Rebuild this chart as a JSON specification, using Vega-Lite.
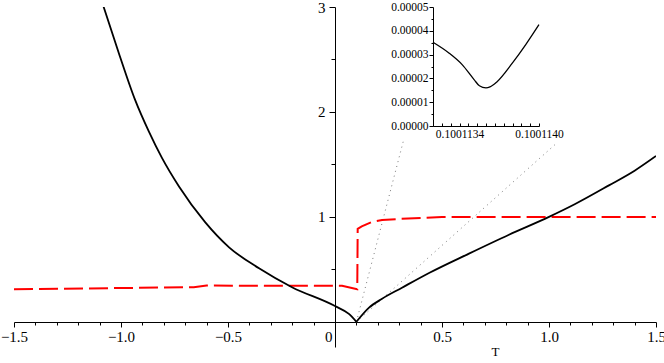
{
  "$schema": "https://vega.github.io/schema/vega-lite/v6.json",
  "padding": 0,
  "background": "white",
  "width": 642,
  "height": 340,
  "config": {
    "view": {"stroke": null},
    "axis": {"grid": false, "domainColor": "black", "tickColor": "black", "labelColor": "black", "titleColor": "black", "labelFont": "Liberation Serif", "titleFont": "Liberation Serif", "domainWidth": 1, "tickWidth": 1, "labelOverlap": false, "labelFlush": false}
  },
  "datasets": {
    "curve": [
      {"b": "L", "i": 1, "T": -1.089, "v": 3.05},
      {"b": "L", "i": 2, "T": -1.01, "v": 2.56},
      {"b": "L", "i": 3, "T": -0.935, "v": 2.12},
      {"b": "L", "i": 4, "T": -0.869, "v": 1.81},
      {"b": "L", "i": 5, "T": -0.808, "v": 1.56},
      {"b": "L", "i": 6, "T": -0.729, "v": 1.29},
      {"b": "L", "i": 7, "T": -0.607, "v": 0.95},
      {"b": "L", "i": 8, "T": -0.495, "v": 0.71},
      {"b": "L", "i": 9, "T": -0.355, "v": 0.51},
      {"b": "L", "i": 10, "T": -0.201, "v": 0.33},
      {"b": "L", "i": 11, "T": 0.0, "v": 0.15},
      {"b": "L", "i": 12, "T": 0.065, "v": 0.075},
      {"b": "L", "i": 13, "T": 0.1001, "v": 0.0},
      {"b": "R", "i": 1, "T": 0.1001, "v": 0.0},
      {"b": "R", "i": 2, "T": 0.159, "v": 0.135},
      {"b": "R", "i": 3, "T": 0.22, "v": 0.22},
      {"b": "R", "i": 4, "T": 0.313, "v": 0.325},
      {"b": "R", "i": 5, "T": 0.444, "v": 0.47},
      {"b": "R", "i": 6, "T": 0.626, "v": 0.65},
      {"b": "R", "i": 7, "T": 0.813, "v": 0.83},
      {"b": "R", "i": 8, "T": 1.0, "v": 1.0},
      {"b": "R", "i": 9, "T": 1.12, "v": 1.12},
      {"b": "R", "i": 10, "T": 1.28, "v": 1.30},
      {"b": "R", "i": 11, "T": 1.40, "v": 1.44},
      {"b": "R", "i": 12, "T": 1.5, "v": 1.58}
    ],
    "ratio": [
      {"i": 1, "T": -1.5, "v": 0.31},
      {"i": 2, "T": -0.66, "v": 0.33},
      {"i": 3, "T": -0.6, "v": 0.345},
      {"i": 4, "T": 0.033, "v": 0.343},
      {"i": 5, "T": 0.104, "v": 0.31},
      {"i": 6, "T": 0.106, "v": 0.886},
      {"i": 7, "T": 0.125, "v": 0.91},
      {"i": 8, "T": 0.17, "v": 0.95},
      {"i": 9, "T": 0.22, "v": 0.97},
      {"i": 10, "T": 0.30, "v": 0.98},
      {"i": 11, "T": 0.40, "v": 0.99},
      {"i": 12, "T": 0.50, "v": 1.0},
      {"i": 13, "T": 1.5, "v": 1.0}
    ],
    "guides": [
      {"g": "a", "i": 1, "T": 0.1001, "v": 0.0},
      {"g": "a", "i": 2, "T": 0.322, "v": 1.743},
      {"g": "b", "i": 1, "T": 0.1001, "v": 0.0},
      {"g": "b", "i": 2, "T": 1.037, "v": 1.705}
    ],
    "inset": [
      {"i": 1, "x": 0.1001132, "y": 0.0000352},
      {"i": 2, "x": 0.10011332, "y": 0.0000307},
      {"i": 3, "x": 0.10011342, "y": 0.0000258},
      {"i": 4, "x": 0.10011351, "y": 0.0000195},
      {"i": 5, "x": 0.10011355, "y": 0.0000169},
      {"i": 6, "x": 0.1001136, "y": 0.0000160},
      {"i": 7, "x": 0.10011363, "y": 0.0000164},
      {"i": 8, "x": 0.10011368, "y": 0.0000184},
      {"i": 9, "x": 0.1001138, "y": 0.0000265},
      {"i": 10, "x": 0.1001139, "y": 0.0000342},
      {"i": 11, "x": 0.100114, "y": 0.0000426}
    ]
  },
  "resolve": {
    "scale": {"x": "independent", "y": "independent"},
    "axis": {"x": "independent", "y": "independent"}
  },
  "layer": [
    {
      "encoding": {
        "x": {
          "field": "T", "type": "quantitative",
          "scale": {"domain": [-1.5, 1.5], "nice": false, "zero": false},
          "axis": {
            "title": "T",
            "orient": "bottom",
            "offset": -25,
            "values": [-1.5,-1.4,-1.3,-1.2,-1.1,-1,-0.9,-0.8,-0.7,-0.6,-0.5,-0.4,-0.3,-0.2,-0.1,0,0.1,0.2,0.3,0.4,0.5,0.6,0.7,0.8,0.9,1,1.1,1.2,1.3,1.4,1.5],
            "labelExpr": "abs(datum.value*2 - round(datum.value*2)) < 0.001 ? (abs(datum.value) < 0.001 ? '0' : format(datum.value, '.1f')) : ''",
            "labelFont": "Liberation Serif",
            "labelFontSize": 15,
            "labelPadding": 2,
            "labelAlign": {"condition": {"test": "abs(datum.value) < 0.001", "value": "right"}, "value": "center"},
            "labelOffset": {"condition": {"test": "abs(datum.value) < 0.001", "value": -3}, "value": 0},
            "tickSize": {"condition": {"test": "abs(datum.value*2 - round(datum.value*2)) < 0.001", "value": 5}, "value": 3},
            "titleFont": "Liberation Serif",
            "titleFontSize": 13,
            "titleFontWeight": "normal",
            "titleX": 481,
            "titleY": 33,
            "titleAlign": "center",
            "titleBaseline": "alphabetic"
          }
        },
        "y": {
          "field": "v", "type": "quantitative",
          "scale": {"domain": [-0.24, 3], "nice": false, "zero": false},
          "axis": {
            "title": null,
            "orient": "left",
            "offset": -321,
            "values": [0.5, 1, 1.5, 2, 2.5, 3],
            "labelExpr": "datum.value % 1 == 0 ? format(datum.value, 'd') : ''",
            "labelFont": "Liberation Serif",
            "labelFontSize": 15,
            "labelPadding": 4,
            "tickSize": {"condition": {"test": "datum.value % 1 == 0", "value": 6}, "value": 4}
          }
        },
        "order": {"field": "i", "type": "quantitative"}
      },
      "layer": [
        {
          "data": {"name": "guides"},
          "mark": {"type": "line", "color": "#7a7a7a", "strokeWidth": 1, "strokeDash": [1, 4], "clip": true},
          "encoding": {"detail": {"field": "g", "type": "nominal"}}
        },
        {
          "data": {"name": "ratio"},
          "mark": {"type": "line", "color": "#ff0000", "strokeWidth": 2, "strokeDash": [19, 6], "clip": true}
        },
        {
          "data": {"name": "curve"},
          "mark": {"type": "line", "color": "black", "strokeWidth": 1.8, "interpolate": "monotone", "clip": true},
          "encoding": {"detail": {"field": "b", "type": "nominal"}}
        }
      ]
    },
    {
      "data": {"name": "inset"},
      "mark": {"type": "line", "color": "black", "strokeWidth": 1.3, "interpolate": "monotone"},
      "encoding": {
        "x": {
          "field": "x", "type": "quantitative",
          "scale": {"domain": [0.1001132, 0.100114], "nice": false, "zero": false, "range": [419, 525]},
          "axis": {
            "title": null,
            "orient": "bottom",
            "offset": -221,
            "values": [0.1001132, 0.10011326667, 0.10011333333, 0.1001134, 0.10011346667, 0.10011353333, 0.1001136, 0.10011366667, 0.10011373333, 0.1001138, 0.10011386667, 0.10011393333, 0.100114],
            "labelExpr": "(abs(datum.value - 0.1001134) < 1e-10 || abs(datum.value - 0.100114) < 1e-10) ? format(datum.value, '.7f') : ''",
            "labelFont": "Liberation Serif",
            "labelFontSize": 11.5,
            "labelPadding": 5,
            "tickSize": -3
          }
        },
        "y": {
          "field": "y", "type": "quantitative",
          "scale": {"domain": [0, 0.00005], "nice": false, "zero": false, "range": [119, 0]},
          "axis": {
            "title": null,
            "orient": "left",
            "offset": -419,
            "values": [0, 0.000005, 0.00001, 0.000015, 0.00002, 0.000025, 0.00003, 0.000035, 0.00004, 0.000045, 0.00005],
            "labelExpr": "abs(datum.value*1e5 - round(datum.value*1e5)) < 0.01 ? format(datum.value, '.5f') : ''",
            "labelFont": "Liberation Serif",
            "labelFontSize": 11.5,
            "labelPadding": 1,
            "tickSize": {"condition": {"test": "abs(datum.value*1e5 - round(datum.value*1e5)) < 0.01", "value": 4}, "value": 2}
          }
        },
        "order": {"field": "i", "type": "quantitative"}
      }
    }
  ]
}
